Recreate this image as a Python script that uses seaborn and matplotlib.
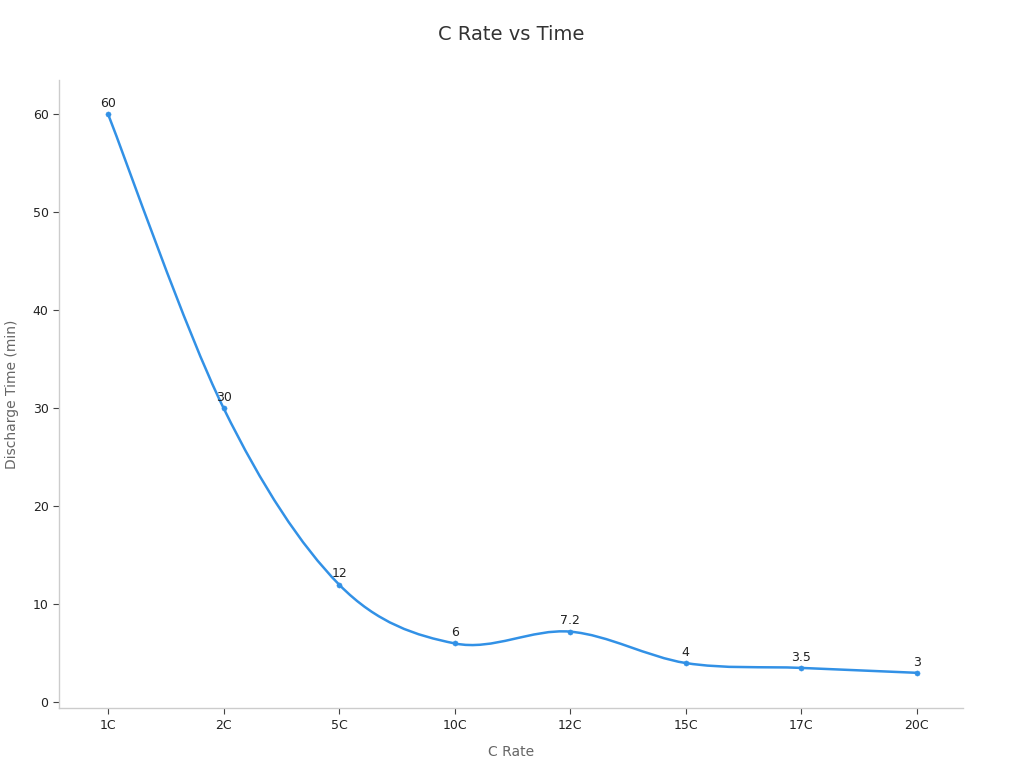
import numpy as np
import pandas as pd
import matplotlib
matplotlib.use("Agg")
import matplotlib.pyplot as plt
from matplotlib.path import Path
from matplotlib.patches import PathPatch
import seaborn as sns

c_rates = ["1C", "2C", "5C", "10C", "12C", "15C", "17C", "20C"]
discharge_min = [60, 30, 12, 6, 7.2, 4, 3.5, 3]
point_labels = ["60", "30", "12", "6", "7.2", "4", "3.5", "3"]

df = pd.DataFrame({"rate": c_rates, "time": discharge_min})
df["pos"] = np.arange(len(df))

sns.set_theme(style="white")
plt.rcParams["font.family"] = ["DejaVu Sans"]

line_color = "#3291e6"

fig = plt.figure(figsize=(10.24, 7.68), dpi=100)
ax = fig.add_axes([0.0576, 0.078, 0.8828, 0.818])

# smooth curve through the points (Catmull-Rom as cubic beziers)
pts = df[["pos", "time"]].to_numpy(dtype=float)
k = 0.5 / 3
verts = [tuple(pts[0])]
codes = [Path.MOVETO]
for i in range(len(pts) - 1):
    p0 = pts[max(i - 1, 0)]
    p1 = pts[i]
    p2 = pts[i + 1]
    p3 = pts[min(i + 2, len(pts) - 1)]
    c1 = p1 + (p2 - p0) * k
    c2 = p2 - (p3 - p1) * k
    verts += [tuple(c1), tuple(c2), tuple(p2)]
    codes += [Path.CURVE4] * 3
ax.add_patch(PathPatch(Path(verts, codes), facecolor="none",
                       edgecolor=line_color, lw=1.8, zorder=2))

sns.scatterplot(data=df, x="pos", y="time", color=line_color, s=14,
                edgecolor=line_color, zorder=3, ax=ax, legend=False)

for x, y, t in zip(df["pos"], df["time"], point_labels):
    ax.annotate(t, (x, y), xytext=(0, 3), textcoords="offset points",
                ha="center", va="bottom", fontsize=9, color="#222222")

ax.set_xlim(-0.425, 7.4)
ax.set_ylim(-0.6, 63.5)
ax.set_xticks(df["pos"])
ax.set_xticklabels(c_rates)
ax.set_yticks([0, 10, 20, 30, 40, 50, 60])

ax.set_title("C Rate vs Time", fontsize=14, color="#333333", pad=29)
ax.set_xlabel("C Rate", fontsize=10, color="#666666", labelpad=10)
ax.set_ylabel("Discharge Time (min)", fontsize=10, color="#666666", labelpad=10)

for s in ["top", "right"]:
    ax.spines[s].set_visible(False)
for s in ["left", "bottom"]:
    ax.spines[s].set_color("#cccccc")
    ax.spines[s].set_linewidth(1)
ax.tick_params(axis="both", labelsize=9, colors="#222222", length=4,
               width=0.8, direction="out", bottom=True, left=True)
ax.tick_params(axis="both", color="#444444")
ax.grid(False)

fig.savefig("out.png", dpi=100)
